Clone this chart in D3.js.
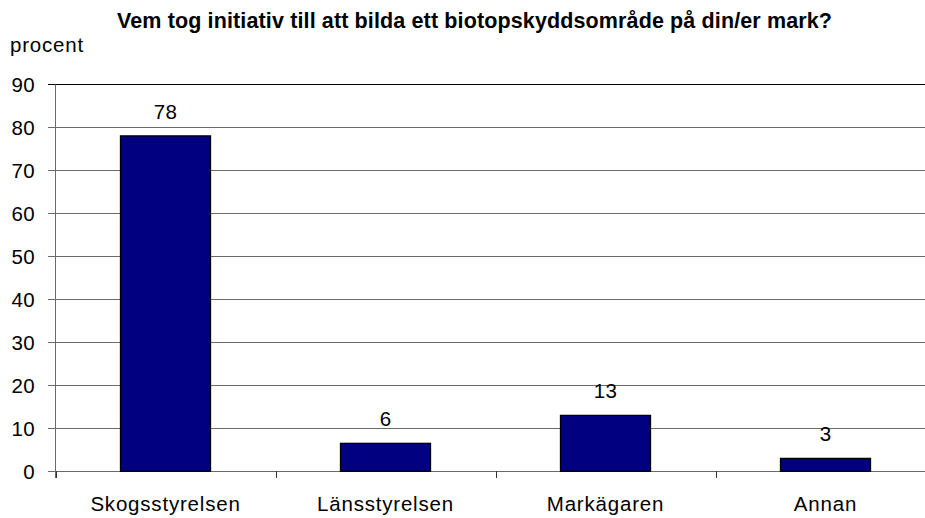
<!DOCTYPE html>
<html><head><meta charset="utf-8">
<script src="https://cdn.jsdelivr.net/npm/d3@7"></script>
<style>body{margin:0;background:#fff}svg{display:block;font-family:"Liberation Sans",Arial,sans-serif}</style>
</head><body>
<svg id="c" width="925" height="518"></svg>
<script>
const categories = ["Skogsstyrelsen", "Länsstyrelsen", "Markägaren", "Annan"];
const values = [78, 6.5, 13, 3];
const valueLabels = ["78", "6", "13", "3"];
const yTicks = [0, 10, 20, 30, 40, 50, 60, 70, 80, 90];
const title = "Vem tog initiativ till att bilda ett biotopskyddsområde på din/er mark?";
const yTitle = "procent";

const svg = d3.select("#c");
const y = d3.scaleLinear().domain([0, 90]).range([471.3, 84.3]);
const x = d3.scaleBand().domain(categories).range([55.5, 935.5]).paddingInner(130/220).paddingOuter(65/220);
const step = x.step();
const FS = 20.5, LS = 0.8;

// gridlines
svg.append("g").selectAll("line").data(yTicks).join("line")
  .attr("x1", 48).attr("x2", 925)
  .attr("y1", d => Math.round(y(d)) + 0.5).attr("y2", d => Math.round(y(d)) + 0.5)
  .attr("stroke", d => d === 90 ? "#000" : "#6a6a6a").attr("stroke-width", 1);

// y axis line
svg.append("line").attr("x1", 55.5).attr("x2", 55.5)
  .attr("y1", Math.round(y(90)) + 0.5).attr("y2", Math.round(y(0)) + 7)
  .attr("stroke", "#6a6a6a");

// category ticks
svg.append("g").selectAll("line").data(d3.range(categories.length + 1)).join("line")
  .attr("x1", i => Math.round(55.5 + i * step) + 0.5).attr("x2", i => Math.round(55.5 + i * step) + 0.5)
  .attr("y1", Math.round(y(0))).attr("y2", Math.round(y(0)) + 7)
  .attr("stroke", "#333");

// y tick labels
svg.append("g").selectAll("text").data(yTicks).join("text")
  .attr("x", 35).attr("y", d => y(d) + 7.5)
  .attr("text-anchor", "end").attr("font-size", FS).attr("letter-spacing", 0.3).attr("fill", "#000")
  .text(d => d);

// bars
svg.append("g").selectAll("rect").data(values).join("rect")
  .attr("x", (d, i) => x(categories[i]))
  .attr("y", d => y(d))
  .attr("width", x.bandwidth())
  .attr("height", d => y(0) - y(d))
  .attr("fill", "#000080").attr("stroke", "#000").attr("stroke-width", 1.3);

// value labels
svg.append("g").selectAll("text").data(values).join("text")
  .attr("x", (d, i) => x(categories[i]) + x.bandwidth() / 2)
  .attr("y", d => y(d) - 17)
  .attr("text-anchor", "middle").attr("font-size", FS).attr("letter-spacing", 0.3).attr("fill", "#000")
  .text((d, i) => valueLabels[i]);

// category labels
svg.append("g").selectAll("text").data(categories).join("text")
  .attr("x", d => x(d) + x.bandwidth() / 2)
  .attr("y", 511)
  .attr("text-anchor", "middle").attr("font-size", FS).attr("letter-spacing", LS).attr("fill", "#000")
  .text(d => d);

// title
svg.append("text").attr("x", 117).attr("y", 28)
  .attr("font-size", 21.5).attr("font-weight", "bold")
  .attr("textLength", 715).attr("lengthAdjust", "spacing")
  .text(title);

svg.append("text").attr("x", 10).attr("y", 52).attr("font-size", FS).attr("letter-spacing", LS).text(yTitle);
</script>
</body></html>
